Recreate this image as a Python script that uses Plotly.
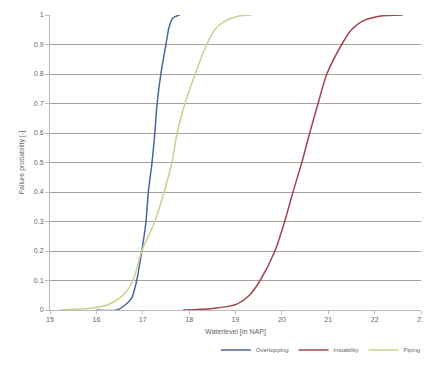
import plotly.graph_objects as go

# Overtopping
ot_x = [16.0, 16.44, 16.62, 16.76, 16.81, 16.87, 16.98, 17.07, 17.12, 17.2, 17.26, 17.31, 17.39, 17.5, 17.57, 17.65, 17.8]
ot_y = [0.0, 0.0, 0.017, 0.04, 0.063, 0.1, 0.2, 0.3, 0.4, 0.5, 0.6, 0.7, 0.8, 0.9, 0.96, 0.99, 1.0]

# Instability
in_x = [17.87, 18.51, 19.03, 19.3, 19.53, 19.85, 20.06, 20.24, 20.43, 20.6, 20.78, 20.97, 21.29, 21.5, 21.75, 22.1, 22.61]
in_y = [0.0, 0.005, 0.02, 0.05, 0.1, 0.2, 0.3, 0.4, 0.5, 0.6, 0.7, 0.8, 0.9, 0.95, 0.98, 0.996, 1.0]

# Piping
pi_x = [15.2, 15.86, 16.23, 16.5, 16.66, 16.79, 16.98, 17.26, 17.46, 17.63, 17.74, 17.91, 18.13, 18.38, 18.55, 18.78, 19.05, 19.35]
pi_y = [0.0, 0.006, 0.017, 0.04, 0.065, 0.1, 0.2, 0.3, 0.4, 0.5, 0.6, 0.7, 0.8, 0.9, 0.95, 0.98, 0.996, 1.0]

x_ticks = [15, 16, 17, 18, 19, 20, 21, 22, 23]
y_ticks = [0, 0.1, 0.2, 0.3, 0.4, 0.5, 0.6, 0.7, 0.8, 0.9, 1]
y_labels = ["0", "0.1", "0.2", "0.3", "0.4", "0.5", "0.6", "0.7", "0.8", "0.9", "1"]

fig = go.Figure()
fig.add_trace(go.Scatter(x=ot_x, y=ot_y, mode="lines", name="Overtopping",
                         line=dict(color="#4A66A0", width=1.5, shape="spline", smoothing=0.8)))
fig.add_trace(go.Scatter(x=in_x, y=in_y, mode="lines", name="Instability",
                         line=dict(color="#A3454F", width=1.5, shape="spline", smoothing=0.8)))
fig.add_trace(go.Scatter(x=pi_x, y=pi_y, mode="lines", name="Piping",
                         line=dict(color="#CDD08C", width=1.5, shape="spline", smoothing=0.8)))

fig.update_layout(
    width=422, height=362,
    margin=dict(l=42, r=9, t=7, b=60, autoexpand=False),
    paper_bgcolor="white", plot_bgcolor="white",
    font=dict(family="Liberation Sans, Arial", size=7, color="#666666"),
    showlegend=True,
    legend=dict(orientation="h", x=0.73, xanchor="center", y=-0.136, yanchor="middle",
                font=dict(size=6, color="#666666"), itemwidth=30, tracegroupgap=0),
)
fig.update_xaxes(range=[15, 23], tickvals=x_ticks, showgrid=False, zeroline=False,
                 automargin=False,
                 showline=True, linecolor="#BBBBBB", ticks="outside", ticklen=3,
                 tickcolor="#BBBBBB",
                 title=dict(text="Waterlevel [m NAP]", font=dict(size=7, color="#666666"), standoff=6))
fig.update_yaxes(range=[0, 1], tickvals=y_ticks, ticktext=y_labels, showgrid=True,
                 automargin=False,
                 gridcolor="#A89C9C", gridwidth=1, zeroline=False,
                 showline=True, linecolor="#BBBBBB", ticks="outside", ticklen=4,
                 tickcolor="#BBBBBB",
                 title=dict(text="Failure probability [-]", font=dict(size=7, color="#666666"), standoff=8))

fig.write_html("out.html")
